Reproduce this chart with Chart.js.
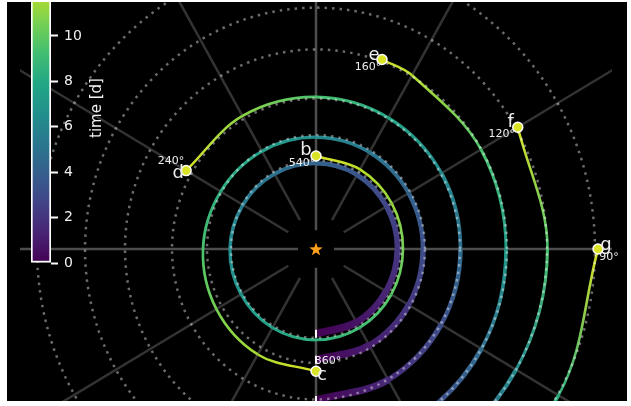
<!DOCTYPE html>
<html>
<head>
<meta charset="utf-8">
<script src="https://cdn.jsdelivr.net/npm/chart.js@4.4.1/dist/chart.umd.min.js"></script>
<style>
  html, body { margin: 0; padding: 0; background: #fff; overflow: hidden; }
  #bg { position: absolute; left: 7px; top: 2px; width: 620px; height: 399px; background: #000; overflow: hidden; }
  #main { position: absolute; left: 0; top: 0; }
  #cbar { position: absolute; left: -7px; top: -52px; }
</style>
</head>
<body>
<div id="bg">
  <canvas id="main" width="620" height="399"></canvas>
  <canvas id="cbar" width="140" height="320"></canvas>
</div>
<script>
// orbits: name, degrees travelled, radius read every 30 deg of travel (last = end point)
const orbitNames = ['b', 'c', 'd', 'e', 'f', 'g'];
const orbitSweep = [540, 360, 240, 160, 120, 90];
const angleLabels = ['540°', '360°', '240°', '160°', '120°', '90°'];
const radiiB = [81, 81, 81, 81.5, 81.5, 82, 82, 83, 84.5, 86, 86.5, 87, 87, 87, 87, 87, 87.5, 88, 89];
const radiiC = [106, 106.5, 107, 107, 107, 107, 107, 108, 110, 113, 115, 116.5, 117];
const radiiD = [144.5, 144.5, 144.5, 144.5, 145, 145, 145.5, 147, 150];
const radiiE = [191, 191, 191, 190, 190.5, 192, 193];
const radiiF = [231, 231, 231, 231.5, 233];
const radiiG = [279, 279, 280, 282];
const refCircles = [85, 109, 144, 191, 231, 279];
const cbarTicks = [0, 2, 4, 6, 8, 10];
const tEnd = 12.6;   // days at the end points
const tTop = 13.3;   // top of the colour scale

// label offsets in px from the end marker [letter dx, dy, angle dx, dy]
const labelOffsets = [
  [-10, -6, -14, 7],
  [6, 4, 12, -10],
  [-8, 3, -15, -9],
  [-8, -4, -14, 8],
  [-7, -5, -16, 7],
  [8, -4, 11, 8]
];

const viridis = ['#440154', '#482475', '#414487', '#355f8d', '#2a788e', '#21918c',
  '#22a884', '#44bf70', '#7ad151', '#bddf26', '#fde725'];

function hexRgb(h) {
  return [parseInt(h.slice(1, 3), 16), parseInt(h.slice(3, 5), 16), parseInt(h.slice(5, 7), 16)];
}
function cmap(v) {
  v = Math.max(0, Math.min(1, v));
  const s = v * 10;
  const i = Math.min(9, Math.floor(s));
  const f = s - i;
  const a = hexRgb(viridis[i]), b = hexRgb(viridis[i + 1]);
  const c = a.map((x, k) => Math.round(x + (b[k] - x) * f));
  return 'rgb(' + c.join(',') + ')';
}
// line gets thinner with time
function lineWidthAt(t) {
  return 2.2 + 6 * Math.exp(-t / 4);
}

function buildOrbit(radii, sweep) {
  return radii.map((r, i) => {
    const a = Math.min(i * 30, sweep);
    const phi = (a - 90) * Math.PI / 180;
    return { x: r * Math.cos(phi), y: r * Math.sin(phi), t: tEnd * a / sweep };
  });
}
const orbitRadii = [radiiB, radiiC, radiiD, radiiE, radiiF, radiiG];
const orbits = orbitRadii.map((r, i) => buildOrbit(r, orbitSweep[i]));

function segData(c) {
  const d = c.chart.data.datasets[c.datasetIndex].data;
  return [d[c.p0DataIndex].t, d[c.p1DataIndex].t];
}

let datasets = [];

// end markers
datasets.push({
  data: orbits.map(o => o[o.length - 1]),
  showLine: false,
  pointRadius: 5,
  pointBackgroundColor: cmap(tEnd / tTop),
  pointBorderColor: '#fff',
  pointBorderWidth: 1.5,
  order: 0
});

// start ticks
datasets.push({
  data: orbits.map(o => o[0]),
  showLine: false,
  pointStyle: 'line',
  rotation: 90,
  pointRadius: 4,
  pointBorderColor: '#fff',
  pointBorderWidth: 2,
  order: 0
});

// star
function starImage(size, color) {
  const cv = document.createElement('canvas');
  cv.width = size; cv.height = size;
  const g = cv.getContext('2d');
  g.fillStyle = color;
  g.beginPath();
  for (let k = 0; k < 10; k++) {
    const rr = k % 2 ? size * 0.2 : size * 0.5;
    const a = -Math.PI / 2 + k * Math.PI / 5;
    g.lineTo(size / 2 + rr * Math.cos(a), size / 2 + 0.6 + rr * Math.sin(a));
  }
  g.closePath();
  g.fill();
  return cv;
}
datasets.push({
  data: [{ x: 0, y: 0 }],
  showLine: false,
  pointStyle: starImage(14, '#ffa01c'),
  pointRadius: 7,
  order: 0
});

// dotted reference circles
refCircles.forEach(r => {
  const pts = [];
  for (let a = 0; a <= 360; a += 2) {
    pts.push({ x: r * Math.cos(a * Math.PI / 180), y: r * Math.sin(a * Math.PI / 180) });
  }
  datasets.push({
    data: pts,
    showLine: true,
    borderColor: 'rgba(255,255,255,0.42)',
    borderWidth: 2.5,
    borderDash: [2.5, 5],
    pointRadius: 0,
    tension: 0,
    order: 1
  });
});

// trajectories
orbits.forEach(o => {
  datasets.push({
    data: o,
    showLine: true,
    borderColor: '#888',
    borderWidth: 3,
    borderCapStyle: 'butt',
    tension: 0.35,
    pointRadius: 0,
    order: 2,
    segment: {
      borderColor: c => {
        const [t0, t1] = segData(c);
        const g = c.chart.ctx.createLinearGradient(c.p0.x, c.p0.y, c.p1.x, c.p1.y);
        g.addColorStop(0, cmap(t0 / tTop));
        g.addColorStop(1, cmap(t1 / tTop));
        return g;
      },
      borderWidth: c => {
        const [t0, t1] = segData(c);
        return lineWidthAt((t0 + t1) / 2);
      },
      borderDashOffset: c => c.p0DataIndex
    }
  });
});

// radial spokes
for (let a = 0; a < 360; a += 30) {
  const axis = a % 90 === 0;
  const rIn = axis ? 18 : 32;
  const rad = a * Math.PI / 180;
  datasets.push({
    data: [{ x: rIn * Math.cos(rad), y: rIn * Math.sin(rad) }, { x: 900 * Math.cos(rad), y: 900 * Math.sin(rad) }],
    showLine: true,
    borderColor: axis ? '#4d4d4d' : '#333333',
    borderWidth: 2.5,
    pointRadius: 0,
    order: 3
  });
}

const labelPlugin = {
  id: 'orbitLabels',
  afterDatasetsDraw(chart) {
    const ctx = chart.ctx;
    const xs = chart.scales.x, ys = chart.scales.y;
    ctx.save();
    ctx.textAlign = 'center';
    ctx.textBaseline = 'middle';
    ctx.fillStyle = '#ececec';
    orbits.forEach((o, i) => {
      const p = o[o.length - 1];
      const px = xs.getPixelForValue(p.x), py = ys.getPixelForValue(p.y);
      const off = labelOffsets[i];
      ctx.font = '18px "DejaVu Sans"';
      ctx.fillText(orbitNames[i], px + off[0], py + off[1]);
      ctx.font = '11px "DejaVu Sans"';
      ctx.fillText(angleLabels[i], px + off[2], py + off[3]);
    });
    ctx.restore();
  }
};

new Chart(document.getElementById('main'), {
  type: 'scatter',
  data: { datasets: datasets },
  options: {
    responsive: false,
    animation: false,
    events: [],
    layout: { autoPadding: false, padding: { left: 13, right: 15, top: 0, bottom: 0 } },
    elements: { line: { capBezierPoints: false } },
    plugins: { legend: { display: false }, tooltip: { enabled: false } },
    scales: {
      x: { type: 'linear', min: -296, max: 296, display: false },
      y: { type: 'linear', min: -145.45, max: 236.36, display: false }
    }
  },
  plugins: [labelPlugin]
});

// colour bar
const cbarTitle = {
  id: 'cbarTitle',
  afterDraw(chart) {
    const ctx = chart.ctx;
    ctx.save();
    ctx.translate(97, 158);
    ctx.rotate(-Math.PI / 2);
    ctx.textAlign = 'center';
    ctx.textBaseline = 'middle';
    ctx.font = '15px "DejaVu Sans"';
    ctx.fillStyle = '#f0f0f0';
    ctx.fillText('time [d]', 0, 0);
    ctx.restore();
  }
};

new Chart(document.getElementById('cbar'), {
  type: 'bar',
  data: {
    labels: [''],
    datasets: [{
      data: [[0, tTop]],
      backgroundColor: c => {
        const area = c.chart.chartArea;
        if (!area) return '#000';
        const g = c.chart.ctx.createLinearGradient(0, area.bottom, 0, area.top);
        viridis.forEach((col, i) => g.addColorStop(i / 10, col));
        return g;
      },
      borderColor: '#fff',
      borderWidth: 2,
      borderSkipped: false,
      barPercentage: 1,
      categoryPercentage: 1
    }]
  },
  options: {
    responsive: false,
    animation: false,
    events: [],
    layout: { autoPadding: false, padding: { left: 31, top: 11, bottom: 7, right: 0 } },
    plugins: { legend: { display: false }, tooltip: { enabled: false } },
    scales: {
      x: { display: false },
      y: {
        position: 'right',
        min: 0,
        max: tTop,
        border: { display: false },
        grid: { drawOnChartArea: false, tickLength: 7, tickWidth: 2, tickColor: '#fff', color: '#fff' },
        ticks: { color: '#f0f0f0', padding: 6, font: { size: 14, family: 'DejaVu Sans' } },
        afterBuildTicks: s => { s.ticks = cbarTicks.map(v => ({ value: v })); },
        afterFit: s => { s.width = 89; s.paddingTop = 0; s.paddingBottom = 0; }
      }
    }
  },
  plugins: [cbarTitle]
});
</script>
</body>
</html>
